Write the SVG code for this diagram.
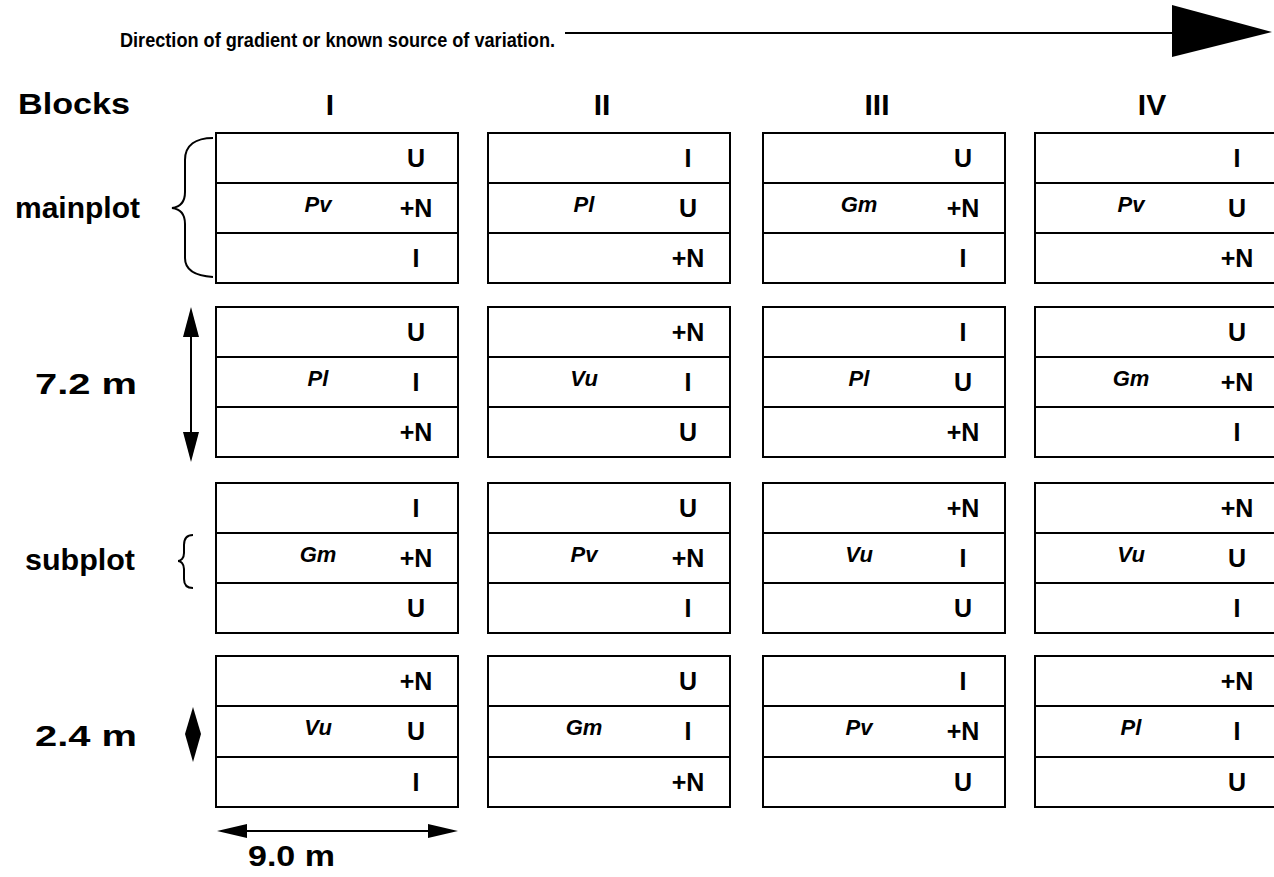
<svg xmlns="http://www.w3.org/2000/svg" width="1274" height="877" viewBox="0 0 1274 877">
<style>
.cell{fill:#fff;stroke:#000;stroke-width:2}
.div{stroke:#000;stroke-width:2}
.t{font-family:"Liberation Sans",Arial,sans-serif;font-weight:bold;font-size:25px;fill:#000;text-anchor:middle}
.sp{font-family:"Liberation Sans",Arial,sans-serif;font-weight:bold;font-style:italic;font-size:22px;fill:#000;text-anchor:middle}
.lab{font-family:"Liberation Sans",Arial,sans-serif;font-weight:bold;font-size:29px;fill:#000}
.hdr{font-family:"Liberation Sans",Arial,sans-serif;font-weight:bold;font-size:30px;fill:#000;text-anchor:middle}
.top{font-family:"Liberation Sans",Arial,sans-serif;font-weight:bold;font-size:20px;fill:#000}
.ln{stroke:#000;stroke-width:2;fill:none}
.hd{fill:#000;stroke:none}
</style>
<rect width="1274" height="877" fill="#fff"/>
<text class="top" x="120" y="47" textLength="435" lengthAdjust="spacingAndGlyphs">Direction of gradient or known source of variation.</text>
<text class="lab" x="18" y="114" textLength="112" lengthAdjust="spacingAndGlyphs">Blocks</text>
<text class="hdr" x="330" y="115">I</text>
<text class="hdr" x="602" y="115">II</text>
<text class="hdr" x="877" y="115">III</text>
<text class="hdr" x="1152" y="115">IV</text>
<text class="lab" x="15" y="218" textLength="125" lengthAdjust="spacingAndGlyphs">mainplot</text>
<text class="lab" x="35" y="394" textLength="102" lengthAdjust="spacingAndGlyphs">7.2 m</text>
<text class="lab" x="25" y="570" textLength="110" lengthAdjust="spacingAndGlyphs">subplot</text>
<text class="lab" x="35" y="746" textLength="102" lengthAdjust="spacingAndGlyphs">2.4 m</text>
<text class="lab" x="248" y="866" textLength="87" lengthAdjust="spacingAndGlyphs">9.0 m</text>
<g id="connectors">
<line class="ln" x1="565" y1="33" x2="1180" y2="33" stroke-width="2.5"/>
<polygon class="hd" points="1172,5 1272,32 1172,57"/>
<path class="ln" d="M213,138 C196,138 185,145 185,160 L185,192 C185,202 180,207 172,208 C180,209 185,214 185,224 L185,258 C185,270 196,276 213,277"/>
<path class="ln" d="M193,535 C187,535 184,539 184,545 L184,553 C184,558 181,561 178,561 C181,561 184,564 184,569 L184,579 C184,585 187,588 193,588"/>
<line class="ln" x1="191" y1="330" x2="191" y2="440"/>
<polygon class="hd" points="191,307 199,337 183,337"/>
<polygon class="hd" points="191,462 199,432 183,432"/>
<polygon class="hd" points="193,707 201,734 193,762 185,734"/>
<line class="ln" x1="240" y1="831" x2="435" y2="831"/>
<polygon class="hd" points="217,831 247,824 247,838"/>
<polygon class="hd" points="458,831 428,824 428,838"/>
</g>
<g id="plot-1-I" transform="translate(216,133)">
<rect class="cell" x="0" y="0" width="242" height="150"/><line class="div" x1="0" y1="50" x2="242" y2="50"/><line class="div" x1="0" y1="100" x2="242" y2="100"/>
<text class="t" x="200" y="34">U</text><text class="t" x="200" y="84">+N</text><text class="t" x="200" y="134">I</text><text class="sp" x="102" y="79">Pv</text>
</g>
<g id="plot-1-II" transform="translate(488,133)">
<rect class="cell" x="0" y="0" width="242" height="150"/><line class="div" x1="0" y1="50" x2="242" y2="50"/><line class="div" x1="0" y1="100" x2="242" y2="100"/>
<text class="t" x="200" y="34">I</text><text class="t" x="200" y="84">U</text><text class="t" x="200" y="134">+N</text><text class="sp" x="96" y="79">Pl</text>
</g>
<g id="plot-1-III" transform="translate(763,133)">
<rect class="cell" x="0" y="0" width="242" height="150"/><line class="div" x1="0" y1="50" x2="242" y2="50"/><line class="div" x1="0" y1="100" x2="242" y2="100"/>
<text class="t" x="200" y="34">U</text><text class="t" x="200" y="84">+N</text><text class="t" x="200" y="134">I</text><text class="sp" x="96" y="79">Gm</text>
</g>
<g id="plot-1-IV" transform="translate(1035,133)">
<rect class="cell" x="0" y="0" width="250" height="150"/><line class="div" x1="0" y1="50" x2="250" y2="50"/><line class="div" x1="0" y1="100" x2="250" y2="100"/>
<text class="t" x="202" y="34">I</text><text class="t" x="202" y="84">U</text><text class="t" x="202" y="134">+N</text><text class="sp" x="96" y="79">Pv</text>
</g>
<g id="plot-2-I" transform="translate(216,307)">
<rect class="cell" x="0" y="0" width="242" height="150"/><line class="div" x1="0" y1="50" x2="242" y2="50"/><line class="div" x1="0" y1="100" x2="242" y2="100"/>
<text class="t" x="200" y="34">U</text><text class="t" x="200" y="84">I</text><text class="t" x="200" y="134">+N</text><text class="sp" x="102" y="79">Pl</text>
</g>
<g id="plot-2-II" transform="translate(488,307)">
<rect class="cell" x="0" y="0" width="242" height="150"/><line class="div" x1="0" y1="50" x2="242" y2="50"/><line class="div" x1="0" y1="100" x2="242" y2="100"/>
<text class="t" x="200" y="34">+N</text><text class="t" x="200" y="84">I</text><text class="t" x="200" y="134">U</text><text class="sp" x="96" y="79">Vu</text>
</g>
<g id="plot-2-III" transform="translate(763,307)">
<rect class="cell" x="0" y="0" width="242" height="150"/><line class="div" x1="0" y1="50" x2="242" y2="50"/><line class="div" x1="0" y1="100" x2="242" y2="100"/>
<text class="t" x="200" y="34">I</text><text class="t" x="200" y="84">U</text><text class="t" x="200" y="134">+N</text><text class="sp" x="96" y="79">Pl</text>
</g>
<g id="plot-2-IV" transform="translate(1035,307)">
<rect class="cell" x="0" y="0" width="250" height="150"/><line class="div" x1="0" y1="50" x2="250" y2="50"/><line class="div" x1="0" y1="100" x2="250" y2="100"/>
<text class="t" x="202" y="34">U</text><text class="t" x="202" y="84">+N</text><text class="t" x="202" y="134">I</text><text class="sp" x="96" y="79">Gm</text>
</g>
<g id="plot-3-I" transform="translate(216,483)">
<rect class="cell" x="0" y="0" width="242" height="150"/><line class="div" x1="0" y1="50" x2="242" y2="50"/><line class="div" x1="0" y1="100" x2="242" y2="100"/>
<text class="t" x="200" y="34">I</text><text class="t" x="200" y="84">+N</text><text class="t" x="200" y="134">U</text><text class="sp" x="102" y="79">Gm</text>
</g>
<g id="plot-3-II" transform="translate(488,483)">
<rect class="cell" x="0" y="0" width="242" height="150"/><line class="div" x1="0" y1="50" x2="242" y2="50"/><line class="div" x1="0" y1="100" x2="242" y2="100"/>
<text class="t" x="200" y="34">U</text><text class="t" x="200" y="84">+N</text><text class="t" x="200" y="134">I</text><text class="sp" x="96" y="79">Pv</text>
</g>
<g id="plot-3-III" transform="translate(763,483)">
<rect class="cell" x="0" y="0" width="242" height="150"/><line class="div" x1="0" y1="50" x2="242" y2="50"/><line class="div" x1="0" y1="100" x2="242" y2="100"/>
<text class="t" x="200" y="34">+N</text><text class="t" x="200" y="84">I</text><text class="t" x="200" y="134">U</text><text class="sp" x="96" y="79">Vu</text>
</g>
<g id="plot-3-IV" transform="translate(1035,483)">
<rect class="cell" x="0" y="0" width="250" height="150"/><line class="div" x1="0" y1="50" x2="250" y2="50"/><line class="div" x1="0" y1="100" x2="250" y2="100"/>
<text class="t" x="202" y="34">+N</text><text class="t" x="202" y="84">U</text><text class="t" x="202" y="134">I</text><text class="sp" x="96" y="79">Vu</text>
</g>
<g id="plot-4-I" transform="translate(216,656)">
<rect class="cell" x="0" y="0" width="242" height="151"/><line class="div" x1="0" y1="50" x2="242" y2="50"/><line class="div" x1="0" y1="101" x2="242" y2="101"/>
<text class="t" x="200" y="34">+N</text><text class="t" x="200" y="84">U</text><text class="t" x="200" y="135">I</text><text class="sp" x="102" y="79">Vu</text>
</g>
<g id="plot-4-II" transform="translate(488,656)">
<rect class="cell" x="0" y="0" width="242" height="151"/><line class="div" x1="0" y1="50" x2="242" y2="50"/><line class="div" x1="0" y1="101" x2="242" y2="101"/>
<text class="t" x="200" y="34">U</text><text class="t" x="200" y="84">I</text><text class="t" x="200" y="135">+N</text><text class="sp" x="96" y="79">Gm</text>
</g>
<g id="plot-4-III" transform="translate(763,656)">
<rect class="cell" x="0" y="0" width="242" height="151"/><line class="div" x1="0" y1="50" x2="242" y2="50"/><line class="div" x1="0" y1="101" x2="242" y2="101"/>
<text class="t" x="200" y="34">I</text><text class="t" x="200" y="84">+N</text><text class="t" x="200" y="135">U</text><text class="sp" x="96" y="79">Pv</text>
</g>
<g id="plot-4-IV" transform="translate(1035,656)">
<rect class="cell" x="0" y="0" width="250" height="151"/><line class="div" x1="0" y1="50" x2="250" y2="50"/><line class="div" x1="0" y1="101" x2="250" y2="101"/>
<text class="t" x="202" y="34">+N</text><text class="t" x="202" y="84">I</text><text class="t" x="202" y="135">U</text><text class="sp" x="96" y="79">Pl</text>
</g>
</svg>
